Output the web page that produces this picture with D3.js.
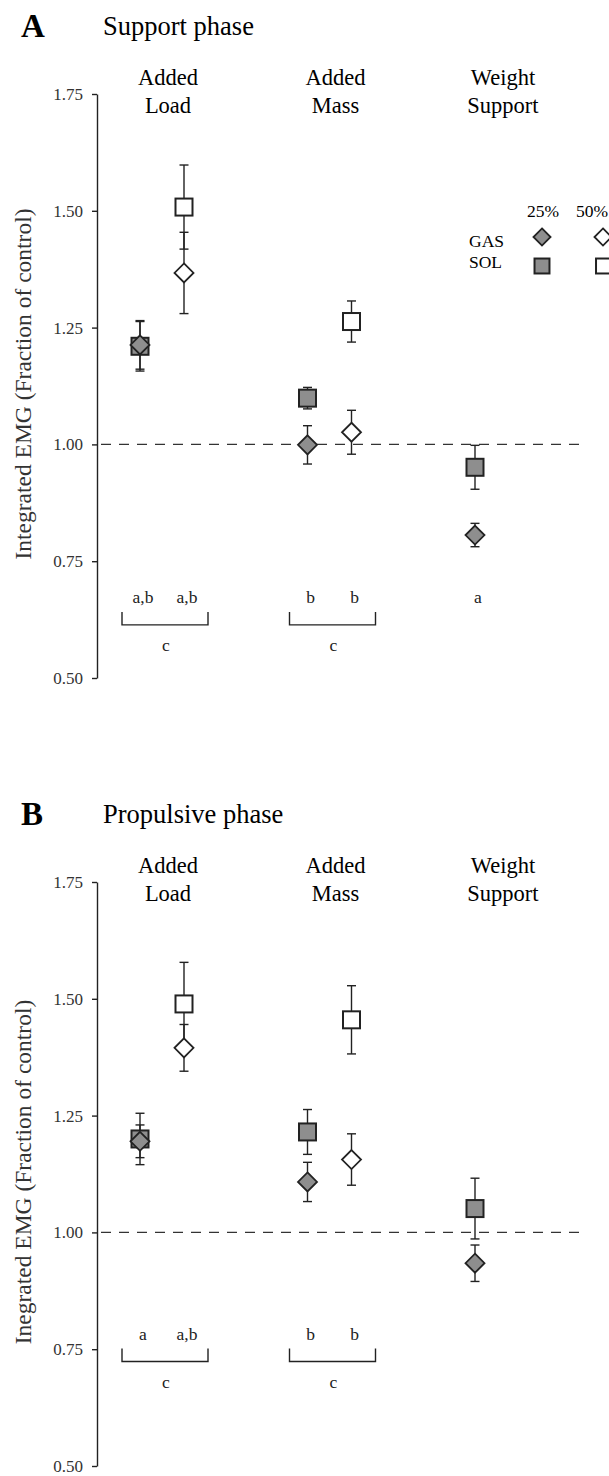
<!DOCTYPE html>
<html>
<head>
<meta charset="utf-8">
<script src="https://cdn.jsdelivr.net/npm/d3@7"></script>
<style>
  body { margin: 0; background: #fff; }
  svg { display: block; font-family: "Liberation Serif", "Times New Roman", serif; }
</style>
</head>
<body>
<svg id="chart" width="609" height="1476"></svg>
<script>
// conditions shown along the x axis
const categories = ["Added Load", "Added Mass", "Weight Support"];
const yTicks = [0.5, 0.75, 1.0, 1.25, 1.5, 1.75];

// support phase (panel A), mean and error per condition; null = not tested
const supportGas25 = [1.213, 0.999, 0.806];
const supportGas25Err = [0.052, 0.041, 0.025];
const supportGas50 = [1.367, 1.026, null];
const supportGas50Err = [0.087, 0.047, null];
const supportSol25 = [1.210, 1.099, 0.951];
const supportSol25Err = [0.053, 0.023, 0.047];
const supportSol50 = [1.508, 1.263, null];
const supportSol50Err = [0.090, 0.044, null];

// propulsive phase (panel B)
const propGas25 = [1.195, 1.108, 0.934];
const propGas25Err = [0.035, 0.042, 0.039];
const propGas50 = [1.395, 1.156, null];
const propGas50Err = [0.050, 0.055, null];
const propSol25 = [1.200, 1.215, 1.051];
const propSol25Err = [0.055, 0.048, 0.065];
const propSol50 = [1.489, 1.455, null];
const propSol50Err = [0.089, 0.073, null];

// significance letters
const supportLetters25 = ["a,b", "b", "a"];
const supportLetters50 = ["a,b", "b", ""];
const propLetters25 = ["a", "b", ""];
const propLetters50 = ["a,b", "b", ""];
const bracketLabels = ["c", "c", ""];

const panels = [
  {
    letter: "A", title: "Support phase", ylabel: "Integrated EMG (Fraction of control)",
    top: 0, annot: 0.665,
    series: [
      { muscle: "SOL", level: 25, values: supportSol25, errs: supportSol25Err },
      { muscle: "SOL", level: 50, values: supportSol50, errs: supportSol50Err },
      { muscle: "GAS", level: 25, values: supportGas25, errs: supportGas25Err },
      { muscle: "GAS", level: 50, values: supportGas50, errs: supportGas50Err }
    ],
    letters25: supportLetters25, letters50: supportLetters50
  },
  {
    letter: "B", title: "Propulsive phase", ylabel: "Inegrated EMG (Fraction of control)",
    top: 788, annot: 0.775,
    series: [
      { muscle: "SOL", level: 25, values: propSol25, errs: propSol25Err },
      { muscle: "SOL", level: 50, values: propSol50, errs: propSol50Err },
      { muscle: "GAS", level: 25, values: propGas25, errs: propGas25Err },
      { muscle: "GAS", level: 50, values: propGas50, errs: propGas50Err }
    ],
    letters25: propLetters25, letters50: propLetters50
  }
];

const ink = "#222";
const grey = "#8e8e8e";
const svg = d3.select("#chart");

const y = d3.scaleLinear().domain([0.5, 1.75]).range([678, 94]);
const x = d3.scalePoint().domain(categories).range([162, 497]);
const levelShift = { 25: -22, 50: 22 };
const px = (cat, level) => x(cat) + levelShift[level];

function drawMarker(g, muscle, level, cx, cy, scale) {
  const fill = level === 25 ? grey : "#fff";
  if (muscle === "SOL") {
    const s = 17 * scale;
    g.append("rect")
      .attr("x", cx - s / 2).attr("y", cy - s / 2)
      .attr("width", s).attr("height", s)
      .attr("fill", fill).attr("stroke", ink).attr("stroke-width", 2);
  } else {
    const r = 9.5 * scale;
    g.append("path")
      .attr("d", `M${cx},${cy - r}L${cx + r},${cy}L${cx},${cy + r}L${cx - r},${cy}Z`)
      .attr("fill", fill).attr("stroke", ink).attr("stroke-width", 1.8);
  }
}

panels.forEach(p => {
  const g = svg.append("g").attr("transform", `translate(0,${p.top})`);

  g.append("text").attr("x", 21).attr("y", 37)
    .attr("font-size", 33).attr("font-weight", "bold").text(p.letter);
  g.append("text").attr("x", 103).attr("y", 35)
    .attr("font-size", 26.5).text(p.title);

  // category headers
  categories.forEach((c, i) => {
    const words = c.split(" ");
    const t = g.append("text").attr("text-anchor", "middle").attr("font-size", 22.5);
    t.append("tspan").attr("x", x(c) + 6).attr("y", 85).text(words[0]);
    t.append("tspan").attr("x", x(c) + 6).attr("y", 113).text(words[1]);
  });

  // y axis
  const axis = g.append("g").attr("transform", "translate(97,0)")
    .call(d3.axisLeft(y).tickValues(yTicks).tickFormat(d3.format(".2f"))
      .tickSize(5).tickSizeOuter(0).tickPadding(9));
  axis.select(".domain").attr("stroke", ink).attr("stroke-width", 1.4);
  axis.selectAll(".tick line").attr("stroke", ink).attr("stroke-width", 1.4);
  axis.selectAll(".tick text").attr("font-size", 17).attr("fill", "#333")
    .attr("font-family", "Liberation Serif");

  g.append("text")
    .attr("transform", `translate(31,${(y(0.5) + y(1.75)) / 2 - 2}) rotate(-90)`)
    .attr("text-anchor", "middle").attr("font-size", 23.5).attr("fill", "#333")
    .text(p.ylabel);

  // reference line at control level
  g.append("line")
    .attr("x1", 101).attr("x2", 584).attr("y1", y(1)).attr("y2", y(1))
    .attr("stroke", "#333").attr("stroke-width", 1.4).attr("stroke-dasharray", "10,8");

  // error bars first
  const bars = g.append("g");
  p.series.forEach(s => {
    categories.forEach((c, i) => {
      if (s.values[i] == null) return;
      const cx = px(c, s.level);
      const lo = y(s.values[i] - s.errs[i]);
      const hi = y(s.values[i] + s.errs[i]);
      bars.append("line").attr("x1", cx).attr("x2", cx).attr("y1", lo).attr("y2", hi)
        .attr("stroke", ink).attr("stroke-width", 1.4);
      [lo, hi].forEach(yy => bars.append("line")
        .attr("x1", cx - 4.5).attr("x2", cx + 4.5).attr("y1", yy).attr("y2", yy)
        .attr("stroke", ink).attr("stroke-width", 1.4));
    });
  });

  const marks = g.append("g");
  p.series.forEach(s => {
    categories.forEach((c, i) => {
      if (s.values[i] == null) return;
      drawMarker(marks, s.muscle, s.level, px(c, s.level), y(s.values[i]), 1);
    });
  });

  // significance letters and brackets
  const ay = y(p.annot);
  categories.forEach((c, i) => {
    [[25, p.letters25[i]], [50, p.letters50[i]]].forEach(([lvl, txt]) => {
      if (!txt) return;
      g.append("text").attr("x", px(c, lvl) + 3).attr("y", ay + 2)
        .attr("text-anchor", "middle").attr("font-size", 17.5).attr("fill", "#222").text(txt);
    });
    if (bracketLabels[i]) {
      const cx = x(c) + 3;
      g.append("path")
        .attr("d", `M${cx - 43},${ay + 11}V${ay + 24}H${cx + 43}V${ay + 11}`)
        .attr("fill", "none").attr("stroke", ink).attr("stroke-width", 1.4);
      g.append("text").attr("x", cx + 1).attr("y", ay + 50)
        .attr("text-anchor", "middle").attr("font-size", 17.5).attr("fill", "#222")
        .text(bracketLabels[i]);
    }
  });
});

// legend (panel A only)
const lg = svg.append("g");
lg.append("text").attr("x", 543).attr("y", 217).attr("text-anchor", "middle").attr("font-size", 17.5).text("25%");
lg.append("text").attr("x", 592).attr("y", 217).attr("text-anchor", "middle").attr("font-size", 17.5).text("50%");
lg.append("text").attr("x", 469).attr("y", 247).attr("font-size", 17.5).text("GAS");
lg.append("text").attr("x", 469).attr("y", 268).attr("font-size", 17.5).text("SOL");
drawMarker(lg, "GAS", 25, 542, 237, 0.9);
drawMarker(lg, "GAS", 50, 603, 237, 0.9);
drawMarker(lg, "SOL", 25, 542, 266, 0.88);
drawMarker(lg, "SOL", 50, 603.5, 266, 0.88);
</script>
</body>
</html>
